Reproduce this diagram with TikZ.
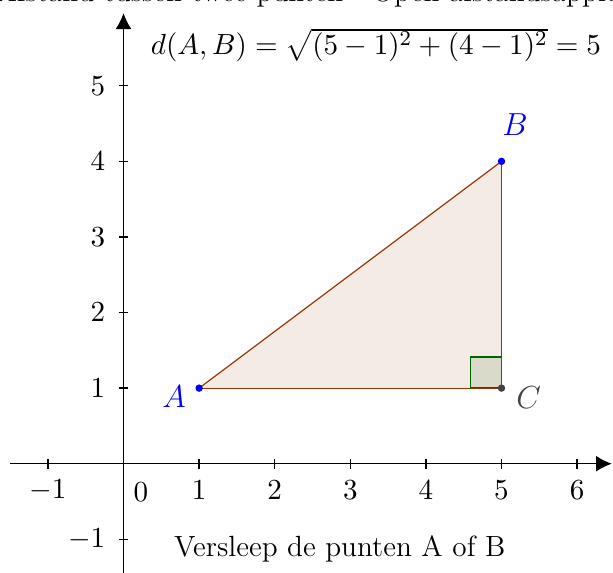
\documentclass[tikz,border=0pt]{standalone}
\usepackage{tikz}
\usetikzlibrary{arrows.meta,positioning}
\definecolor{segbrown}{RGB}{153,51,0}
\definecolor{hoekgreen}{RGB}{0,100,0}
\definecolor{hoekfill}{RGB}{218,218,203}
\definecolor{puntblue}{RGB}{0,0,255}
\definecolor{puntgray}{RGB}{68,68,68}
\tikzset{
  axis/.style={
    -{Latex[length=2.1mm,width=2.1mm]},
    line width=0.5pt
  },
  axistick/.style={line width=0.5pt},
  ticklabel/.style={
    font=\fontsize{10.8}{13}\selectfont,
    inner sep=1pt
  },
  punt/.style={
    circle,
    fill=#1,
    inner sep=0pt,
    minimum size=2.8pt
  },
  puntlabel/.style={
    font=\fontsize{12}{14}\selectfont,
    text=#1,
    inner sep=0pt
  },
  zijde/.style={draw=segbrown, line width=0.45pt},
  tekst/.style={font=\fontsize{11}{13}\selectfont, inner sep=0pt}
}

\begin{document}
\begin{tikzpicture}
\useasboundingbox (-1.634,-1.433) rectangle (6.475,6.134);
\clip (-1.634,-1.433) rectangle (6.475,6.134);

% axes
\coordinate (xmin) at (-1.5,0);
\coordinate (xmax) at (6.46,0);
\coordinate (ymin) at (0,-1.5);
\coordinate (ymax) at (0,5.96);
\draw[axis] (xmin) -- (xmax);
\draw[axis] (ymin) -- (ymax);
\foreach \x in {-1,1,2,3,4,5,6} {
  \draw[axistick] (\x,-0.065) -- (\x,0.065);
  \node[ticklabel] at (\x,-0.35) {$\x$};
}
\foreach \y in {-1,1,2,3,4,5} {
  \draw[axistick] (-0.065,\y) -- (0.065,\y);
  \node[ticklabel,anchor=east] at (-0.2,\y) {$\y$};
}
\node[ticklabel] (nul) at (0.23,-0.37) {$0$};

% triangle
\coordinate (A) at (1,1);
\coordinate (B) at (5,4);
\coordinate (C) at (5,1);
\fill[segbrown!10] (A) -- (B) -- (C) -- cycle;
\draw[zijde] (A) -- (B);
\draw[zijde] (B) -- (C);
\draw[zijde] (C) -- (A);

% right angle
\draw[hoekgreen, fill=hoekfill, line width=0.5pt] (4.59,1) rectangle (5,1.41);
\draw[zijde] (4.59,1) -- (C) -- (5,1.41);

% points
\node[punt=puntblue] (pA) at (A) {};
\node[punt=puntblue] (pB) at (B) {};
\node[punt=puntgray] (pC) at (C) {};
\node[puntlabel=puntblue] (lA) at (0.668,0.882) {$A$};
\node[puntlabel=puntblue] (lB) at (5.18,4.49) {$B$};
\node[puntlabel=puntgray] (lC) at (5.36,0.87) {$C$};

% texts
\node[tekst] (formule) at (3.34,5.54) {$d(A,B)=\sqrt{(5-1)^2+(4-1)^2}=5$};
\node[tekst] (hint) at (2.86,-1.13) {Versleep de punten A of B};
\node[tekst,anchor=base west] (titel) at (-1.70,6.12) {Afstand tussen twee punten - Open afstandsapplet};
\end{tikzpicture}
\end{document}
